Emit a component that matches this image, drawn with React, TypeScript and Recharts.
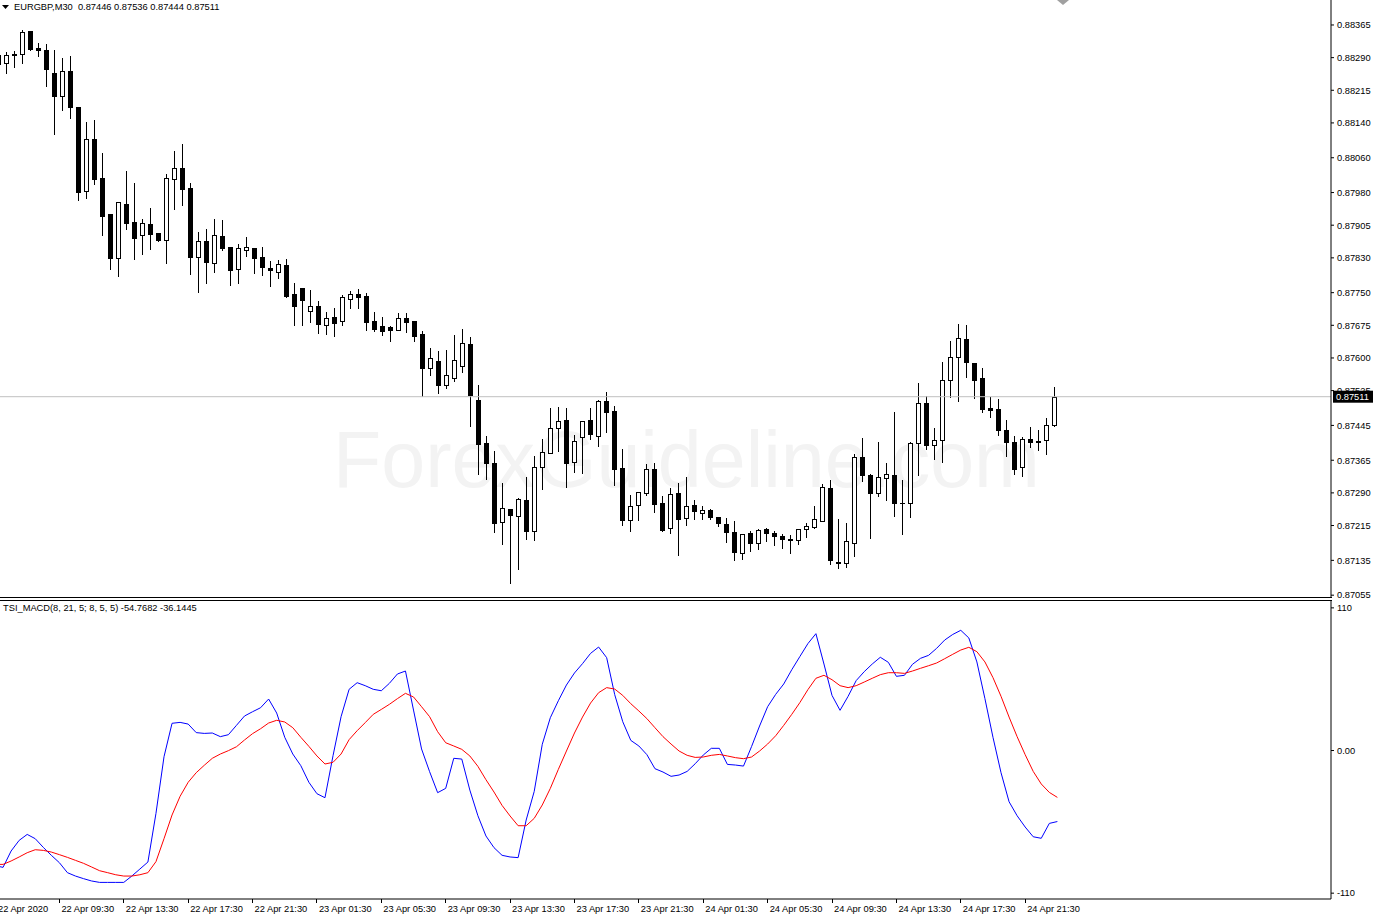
import React from "react";
import { Bar, ComposedChart, Line, ReferenceLine, XAxis, YAxis } from "recharts";

// EURGBP M30, one entry per bar (oldest first)
const open = [0.88296,0.88277,0.88298,0.88298,0.88351,0.88311,0.88307,0.88254,0.88201,0.88259,
  0.88176,0.87983,0.88103,0.88013,0.87930,0.87829,0.87953,0.87912,0.87882,0.87907,
  0.87887,0.87871,0.88011,0.88036,0.87990,0.87832,0.87868,0.87818,0.87880,0.87855,
  0.87804,0.87848,0.87852,0.87832,0.87806,0.87797,0.87813,0.87747,0.87760,0.87708,
  0.87719,0.87675,0.87694,0.87685,0.87735,0.87747,0.87742,0.87685,0.87673,0.87671,
  0.87664,0.87692,0.87685,0.87655,0.87577,0.87593,0.87538,0.87554,0.87581,0.87632,
  0.87503,0.87404,0.87359,0.87223,0.87253,0.87237,0.87274,0.87202,0.87349,0.87382,
  0.87439,0.87457,0.87361,0.87418,0.87457,0.87420,0.87501,0.87478,0.87347,0.87228,
  0.87262,0.87290,0.87345,0.87267,0.87209,0.87290,0.87232,0.87262,0.87244,0.87251,
  0.87235,0.87218,0.87200,0.87152,0.87198,0.87175,0.87207,0.87198,0.87191,0.87184,
  0.87182,0.87207,0.87212,0.87225,0.87301,0.87131,0.87129,0.87175,0.87372,0.87331,
  0.87290,0.87324,0.87331,0.87267,0.87267,0.87404,0.87496,0.87400,0.87411,0.87549,
  0.87602,0.87643,0.87588,0.87554,0.87485,0.87483,0.87434,0.87407,0.87349,0.87414,
  0.87409,0.87411,0.87446];
const high = [0.88303,0.88305,0.88307,0.88355,0.88353,0.88326,0.88323,0.88309,0.88291,0.88296,
  0.88178,0.88144,0.88149,0.88073,0.87932,0.87960,0.88031,0.88004,0.87921,0.87946,
  0.87889,0.88025,0.88077,0.88094,0.88004,0.87891,0.87898,0.87921,0.87919,0.87857,
  0.87864,0.87880,0.87855,0.87857,0.87825,0.87827,0.87829,0.87774,0.87763,0.87758,
  0.87733,0.87708,0.87717,0.87747,0.87756,0.87760,0.87751,0.87708,0.87696,0.87675,
  0.87705,0.87705,0.87687,0.87664,0.87625,0.87618,0.87620,0.87655,0.87669,0.87650,
  0.87540,0.87423,0.87388,0.87315,0.87253,0.87280,0.87329,0.87377,0.87416,0.87487,
  0.87489,0.87487,0.87425,0.87457,0.87487,0.87506,0.87524,0.87492,0.87393,0.87287,
  0.87294,0.87359,0.87361,0.87285,0.87303,0.87315,0.87329,0.87276,0.87262,0.87255,
  0.87237,0.87235,0.87228,0.87198,0.87205,0.87209,0.87212,0.87205,0.87198,0.87195,
  0.87209,0.87223,0.87262,0.87313,0.87322,0.87232,0.87223,0.87382,0.87418,0.87336,
  0.87409,0.87361,0.87478,0.87322,0.87409,0.87545,0.87515,0.87441,0.87593,0.87641,
  0.87680,0.87678,0.87591,0.87579,0.87512,0.87508,0.87460,0.87423,0.87420,0.87444,
  0.87437,0.87464,0.87536];
const low = [0.88268,0.88254,0.88268,0.88277,0.88307,0.88293,0.88224,0.88114,0.88169,0.88151,
  0.87963,0.87967,0.87999,0.87882,0.87804,0.87788,0.87896,0.87827,0.87839,0.87850,
  0.87868,0.87818,0.87942,0.87951,0.87793,0.87751,0.87772,0.87797,0.87848,0.87767,
  0.87772,0.87834,0.87795,0.87790,0.87765,0.87783,0.87740,0.87675,0.87675,0.87682,
  0.87657,0.87655,0.87650,0.87675,0.87715,0.87715,0.87664,0.87662,0.87652,0.87639,
  0.87664,0.87659,0.87639,0.87512,0.87561,0.87519,0.87531,0.87547,0.87568,0.87444,
  0.87333,0.87322,0.87200,0.87172,0.87083,0.87115,0.87184,0.87182,0.87299,0.87382,
  0.87386,0.87303,0.87338,0.87336,0.87414,0.87398,0.87430,0.87308,0.87216,0.87202,
  0.87228,0.87285,0.87246,0.87202,0.87198,0.87147,0.87216,0.87230,0.87230,0.87230,
  0.87214,0.87177,0.87136,0.87138,0.87156,0.87161,0.87179,0.87170,0.87163,0.87152,
  0.87172,0.87189,0.87209,0.87225,0.87127,0.87117,0.87120,0.87145,0.87317,0.87186,
  0.87283,0.87274,0.87237,0.87195,0.87235,0.87331,0.87391,0.87368,0.87361,0.87510,
  0.87501,0.87556,0.87508,0.87476,0.87464,0.87423,0.87375,0.87333,0.87329,0.87395,
  0.87388,0.87379,0.87444];
const close = [0.88275,0.88296,0.88295,0.88349,0.88309,0.88308,0.88264,0.88201,0.88259,0.88176,
  0.87981,0.88103,0.88011,0.87926,0.87829,0.87958,0.87910,0.87875,0.87910,0.87884,
  0.87871,0.88013,0.88036,0.87988,0.87832,0.87868,0.87820,0.87882,0.87852,0.87802,
  0.87852,0.87855,0.87829,0.87809,0.87802,0.87816,0.87742,0.87719,0.87733,0.87719,
  0.87678,0.87692,0.87680,0.87740,0.87747,0.87740,0.87682,0.87666,0.87662,0.87664,
  0.87692,0.87682,0.87650,0.87577,0.87600,0.87538,0.87561,0.87595,0.87634,0.87515,
  0.87402,0.87359,0.87221,0.87255,0.87239,0.87276,0.87202,0.87349,0.87384,0.87439,
  0.87455,0.87359,0.87409,0.87455,0.87425,0.87501,0.87476,0.87345,0.87228,0.87260,
  0.87292,0.87345,0.87264,0.87205,0.87287,0.87230,0.87260,0.87248,0.87251,0.87235,
  0.87221,0.87200,0.87154,0.87195,0.87175,0.87205,0.87198,0.87191,0.87184,0.87182,
  0.87207,0.87214,0.87230,0.87303,0.87136,0.87129,0.87179,0.87372,0.87331,0.87290,
  0.87326,0.87333,0.87267,0.87266,0.87404,0.87496,0.87400,0.87411,0.87549,0.87602,
  0.87646,0.87591,0.87549,0.87483,0.87480,0.87434,0.87407,0.87345,0.87414,0.87407,
  0.87408,0.87446,0.87511];

// TSI_MACD(8, 21, 5; 8, 5, 5): main line (blue) and signal (red)
const tsi = [-88.8,-90.1,-77.5,-69.3,-64.7,-68.0,-74.7,-80.8,-86.5,-94.2,
  -96.8,-98.8,-100.6,-101.7,-101.7,-101.7,-101.7,-96.8,-91.4,-86.0,
  -48.5,-4.8,21.0,21.7,20.4,13.8,13.2,13.5,10.7,12.2,
  19.4,26.6,29.9,33.0,39.7,28.9,10.2,-2.7,-11.7,-24.5,
  -33.3,-36.4,-4.0,26.1,47.2,52.3,50.0,47.2,46.1,51.8,
  59.0,61.3,31.2,1.2,-16.3,-32.5,-29.2,-6.0,-6.6,-30.5,
  -50.3,-65.9,-74.9,-80.8,-82.1,-82.6,-53.6,-31.5,4.8,25.3,
  38.4,50.5,59.8,67.0,74.9,79.8,71.6,43.1,22.2,7.8,
  3.5,-3.2,-14.0,-16.6,-19.9,-18.9,-16.1,-10.2,-3.5,1.7,
  1.7,-10.7,-11.2,-12.0,3.0,18.9,33.8,43.3,51.3,62.3,
  72.4,82.4,90.1,66.7,42.5,31.0,41.8,53.9,60.8,66.7,
  71.9,68.0,57.2,58.0,66.5,71.1,73.4,78.8,85.2,89.5,
  92.7,86.8,68.3,40.0,10.2,-17.1,-39.5,-50.3,-59.0,-66.5,
  -67.7,-56.2,-54.7682];
const signal = [-87.8,-87.8,-85.2,-82.1,-78.8,-76.5,-77.0,-78.3,-80.3,-82.4,
  -84.7,-87.0,-89.8,-92.7,-94.2,-95.8,-96.8,-96.8,-95.8,-94.2,
  -85.7,-68.0,-49.7,-35.3,-24.5,-17.1,-11.4,-6.0,-2.7,-0.1,
  2.9,8.1,13.0,16.8,21.2,23.3,22.0,17.6,10.2,3.2,
  -4.2,-10.4,-9.1,-2.7,8.4,15.3,21.5,27.9,31.7,35.6,
  40.0,44.1,41.3,33.8,26.1,14.5,6.0,3.5,0.9,-4.2,
  -12.2,-22.5,-32.0,-42.3,-50.5,-58.0,-58.0,-52.3,-42.0,-29.2,
  -14.5,-0.4,13.5,25.8,36.6,44.6,48.5,47.4,42.5,36.1,
  30.5,24.6,17.6,10.7,5.0,-0.4,-3.7,-5.3,-5.0,-3.7,
  -3.0,-4.2,-5.5,-6.3,-5.0,-0.4,5.0,11.4,19.4,27.9,
  36.9,46.9,55.7,58.0,54.6,50.0,48.5,50.0,52.8,55.7,
  58.5,60.0,60.0,59.5,61.3,63.4,65.4,67.5,70.8,74.2,
  77.5,79.6,76.2,68.3,56.2,41.8,25.8,10.7,-3.2,-16.1,
  -25.8,-32.3,-36.1445];

const priceTicks = [0.88365,0.8829,0.88215,0.8814,0.8806,0.8798,0.87905,0.8783,0.8775,
  0.87675,0.876,0.87525,0.87445,0.87365,0.8729,0.87215,0.87135,0.87055];
const oscTicks = [110, 0, -110];
const timeLabels = ["22 Apr 2020","22 Apr 09:30","22 Apr 13:30","22 Apr 17:30","22 Apr 21:30",
  "23 Apr 01:30","23 Apr 05:30","23 Apr 09:30","23 Apr 13:30","23 Apr 17:30","23 Apr 21:30",
  "24 Apr 01:30","24 Apr 05:30","24 Apr 09:30","24 Apr 13:30","24 Apr 17:30","24 Apr 21:30"];
const labelStep = 8; // one time label every 8 bars (4 hours)
const emptyBars = 34; // chart shift: empty slots right of the last bar

const FONT = "Tahoma, 'Liberation Sans', Arial, sans-serif";
const FS = 9.3;
const W = 1381; // plot starts 5px left of the window so the first bar is cut

const last = open.length - 1;
const rows = Array.from({ length: open.length + emptyBars }, (_, i) =>
  i <= last
    ? { i, open: open[i], high: high[i], low: low[i], close: close[i], tsi: tsi[i], signal: signal[i] }
    : { i }
);

function Candle(props: any) {
  const { x, y, width, height, payload } = props;
  if (payload == null || payload.high == null) return null;
  const top = Math.min(y, y + height);
  const h = Math.abs(height);
  const span = payload.high - payload.low;
  const py = (p: number) => Math.round(top + (span ? ((payload.high - p) / span) * h : 0)) + 0.5;
  const cx = Math.floor(x + width / 2) + 0.5;
  const yo = py(payload.open);
  const yc = py(payload.close);
  const bTop = Math.min(yo, yc);
  const bBot = Math.max(yo, yc);
  const bull = payload.close >= payload.open;
  return (
    <g shapeRendering="crispEdges">
      <line x1={cx} x2={cx} y1={py(payload.high)} y2={py(payload.low)} stroke="#000" />
      {bBot - bTop < 1 ? (
        <line x1={cx - 2.5} x2={cx + 2.5} y1={bTop} y2={bTop} stroke="#000" strokeWidth={1.5} />
      ) : (
        <rect x={cx - 2} y={bTop} width={4} height={bBot - bTop} fill={bull ? "#fff" : "#000"} stroke="#000" />
      )}
    </g>
  );
}

function PriceTag(props: any) {
  const vb = props.viewBox || {};
  const x = vb.x + vb.width + 2;
  const y = vb.y;
  return (
    <g>
      <rect x={x} y={y - 6} width={40} height={12} fill="#000" />
      <text x={x + 3} y={y + 3.5} fill="#fff" fontSize={FS} fontFamily={FONT}>
        {close[last].toFixed(5)}
      </text>
    </g>
  );
}

function TimeTick(props: any) {
  const { x, y, payload } = props;
  const i = payload.value;
  if (i % labelStep !== 0 || i > last) return null;
  return (
    <g>
      {i > 0 && <line x1={Math.floor(x) + 0.5} x2={Math.floor(x) + 0.5} y1={y} y2={y + 4} stroke="#000" shapeRendering="crispEdges" />}
      <text x={i === 0 ? x + 3 : x + 2} y={y + 13} fontSize={FS} fontFamily={FONT} fill="#000">
        {timeLabels[i / labelStep]}
      </text>
    </g>
  );
}

const axisTick = { fill: "#000", fontSize: FS, fontFamily: FONT };

export default function App() {
  return (
    <div style={{ position: "absolute", left: 0, top: 0, width: 1376, height: 918, background: "#fff", overflow: "hidden", fontFamily: FONT }}>
      <div style={{ position: "absolute", left: 333, top: 410, fontSize: 79, color: "#f3f3f3", fontFamily: "'Liberation Sans', Arial, sans-serif", whiteSpace: "nowrap", lineHeight: "100px" }}>
        ForexGuideline.com
      </div>

      <div style={{ position: "absolute", left: -5, top: 0 }}>
        <ComposedChart width={W} height={605} data={rows} margin={{ top: 0, right: 0, bottom: 8, left: 0 }}>
          <XAxis dataKey="i" hide />
          <YAxis
            orientation="right"
            type="number"
            width={45}
            domain={[0.870508, 0.884224]}
            allowDataOverflow
            ticks={priceTicks}
            interval={0}
            tickFormatter={(v: number) => v.toFixed(5)}
            tickSize={3}
            tickMargin={3}
            axisLine={{ stroke: "#000" }}
            tickLine={{ stroke: "#000" }}
            tick={axisTick}
          />
          <ReferenceLine y={close[last]} stroke="#c0c0c0" label={<PriceTag />} />
          <Bar
            dataKey={(d: any) => (d.high == null ? null : [d.low, d.high])}
            shape={(p: any) => <Candle {...p} />}
            isAnimationActive={false}
          />
        </ComposedChart>
      </div>

      <div style={{ position: "absolute", left: -5, top: 600 }}>
        <ComposedChart width={W} height={318} data={rows} margin={{ top: 1, right: 0, bottom: 0, left: 0 }}>
          <XAxis dataKey="i" interval={0} height={19} tickSize={0} tickMargin={0} tickLine={false} axisLine={{ stroke: "#000" }} tick={<TimeTick />} />
          <YAxis
            orientation="right"
            type="number"
            width={45}
            domain={[-114.5, 115.3]}
            allowDataOverflow
            ticks={oscTicks}
            interval={0}
            tickFormatter={(v: number) => (v === 0 ? "0.00" : String(v))}
            tickSize={3}
            tickMargin={3}
            axisLine={{ stroke: "#000" }}
            tickLine={{ stroke: "#000" }}
            tick={axisTick}
          />
          <Line type="linear" dataKey="tsi" stroke="#0000ff" strokeWidth={1} dot={false} activeDot={false} isAnimationActive={false} />
          <Line type="linear" dataKey="signal" stroke="#ff0000" strokeWidth={1} dot={false} activeDot={false} isAnimationActive={false} />
        </ComposedChart>
      </div>

      {/* panel frames */}
      <div style={{ position: "absolute", left: 0, top: 597, width: 1332, height: 1, background: "#000" }} />
      <div style={{ position: "absolute", left: 0, top: 600, width: 1332, height: 1, background: "#000" }} />

      {/* chart shift marker */}
      <svg style={{ position: "absolute", left: 1056, top: 0 }} width={14} height={8}>
        <polygon points="1,0 13,0 7,5" fill="#a0a0a0" />
      </svg>

      <svg style={{ position: "absolute", left: 2, top: 5 }} width={8} height={5}>
        <polygon points="0,0 7,0 3.5,4" fill="#000" />
      </svg>
      <div style={{ position: "absolute", left: 14, top: 2, fontSize: FS, lineHeight: "11px", whiteSpace: "pre", color: "#000" }}>
        {`EURGBP,M30  ${open[last].toFixed(5)} ${high[last].toFixed(5)} ${low[last].toFixed(5)} ${close[last].toFixed(5)}`}
      </div>
      <div style={{ position: "absolute", left: 3, top: 603, fontSize: FS, lineHeight: "11px", whiteSpace: "pre", color: "#000" }}>
        {`TSI_MACD(8, 21, 5; 8, 5, 5) ${tsi[last].toFixed(4)} ${signal[last].toFixed(4)}`}
      </div>
    </div>
  );
}
